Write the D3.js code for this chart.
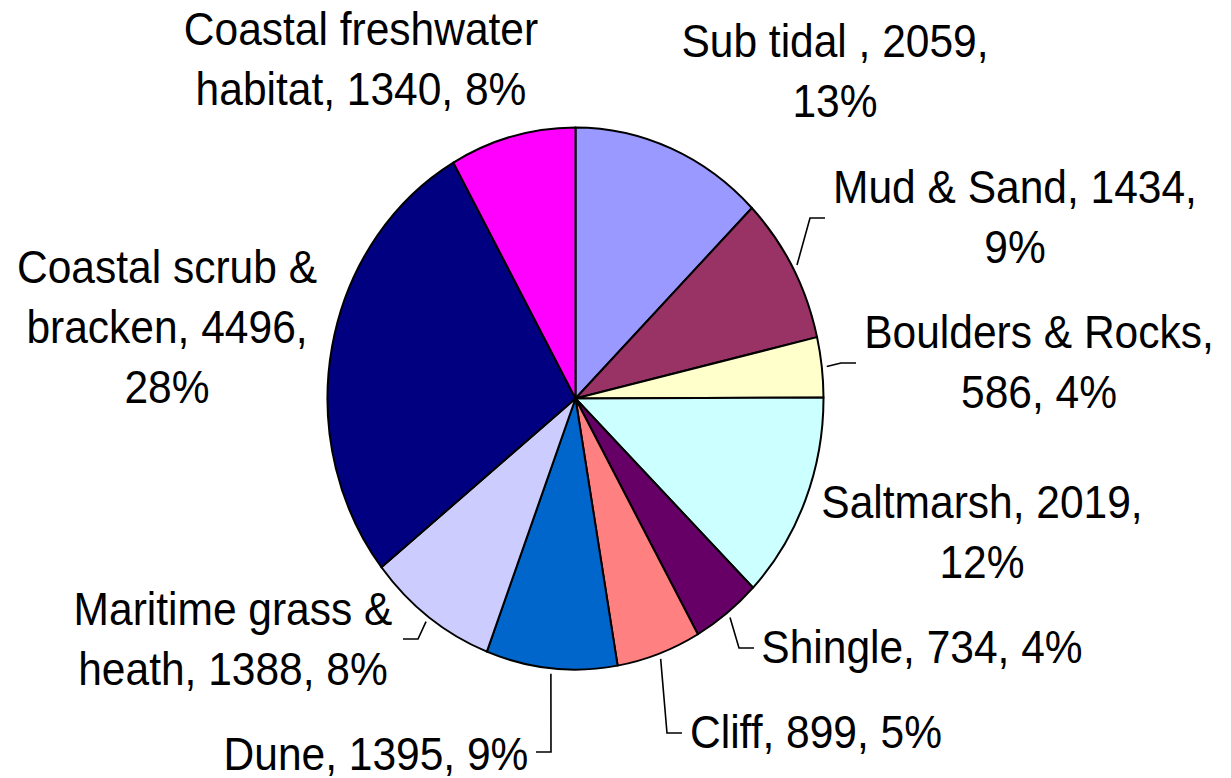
<!DOCTYPE html>
<html>
<head>
<meta charset="utf-8">
<script src="https://cdn.jsdelivr.net/npm/d3@7"></script>
<style>
  html, body { margin: 0; padding: 0; background: #fff; }
  svg { display: block; }
  .lbl { font-family: "Liberation Sans", Arial, sans-serif; font-size: 42.5px; fill: #000; }
</style>
</head>
<body>
<svg id="chart" width="1231" height="778"></svg>
<script>
// data
const categories = ["Sub tidal ", "Mud & Sand", "Boulders & Rocks", "Saltmarsh", "Shingle",
  "Cliff", "Dune", "Maritime grass & heath", "Coastal scrub & bracken", "Coastal freshwater habitat"];
const values = [2059, 1434, 586, 2019, 734, 899, 1395, 1388, 4496, 1340];
const percents = [13, 9, 4, 12, 4, 5, 9, 8, 28, 8];
const colors = ["#9999ff", "#993366", "#ffffcc", "#ccffff", "#660066",
  "#ff8080", "#0066cc", "#ccccff", "#000080", "#ff00ff"];

// label placement (screen px): centre x, first baseline, words per line, leader end
const labelLayout = [
  { x: 835, y: 57, breaks: [4], end: null },
  { x: 1015, y: 203, breaks: [4], end: [825, 218] },
  { x: 1039, y: 348, breaks: [3], end: [856, 363] },
  { x: 982, y: 518, breaks: [2], end: null },
  { x: 922, y: 663, breaks: [], end: [754, 648] },
  { x: 816, y: 748, breaks: [], end: [682, 733] },
  { x: 376, y: 770, breaks: [], end: [536, 752] },
  { x: 233, y: 625, breaks: [3], end: [403, 639] },
  { x: 167, y: 283, breaks: [3, 5], end: null },
  { x: 361, y: 45, breaks: [2], end: null }
];

const cx = 575.5, cy = 398.5, r = 248, ky = 1.093, lineH = 55;

const svg = d3.select("#chart");

const pie = d3.pie().sort(null).value(d => d.value);
const arcs = pie(values.map((v, i) => ({ value: v, i })));
const arc = d3.arc().innerRadius(0).outerRadius(r);

const g = svg.append("g").attr("transform", `translate(${cx},${cy}) scale(1,${ky})`);
g.selectAll("path")
  .data(arcs)
  .join("path")
  .attr("d", arc)
  .attr("fill", d => colors[d.data.i])
  .attr("stroke", "#000")
  .attr("stroke-width", 2)
  .attr("stroke-linejoin", "round")
  .attr("vector-effect", "non-scaling-stroke");

// leader lines
function edgePoint(d, rr) {
  const a = (d.startAngle + d.endAngle) / 2;
  return [cx + Math.sin(a) * rr, cy - Math.cos(a) * rr * ky];
}

arcs.forEach(d => {
  const L = labelLayout[d.data.i];
  if (!L.end) return;
  const p0 = edgePoint(d, r * 1.02);
  const side = L.end[0] > p0[0] ? 1 : -1;
  const elbow = [L.end[0] - side * 15, L.end[1]];
  svg.append("polyline")
    .attr("points", [p0, elbow, L.end].map(p => p.join(",")).join(" "))
    .attr("fill", "none")
    .attr("stroke", "#000")
    .attr("stroke-width", 1.6);
});

// labels
categories.forEach((c, i) => {
  const L = labelLayout[i];
  const words = `${c}, ${values[i]}, ${percents[i]}%`.split(" ");
  const cuts = [0, ...L.breaks, words.length];
  const lines = [];
  for (let k = 0; k < cuts.length - 1; k++) lines.push(words.slice(cuts[k], cuts[k + 1]).join(" "));
  const t = svg.append("g")
    .attr("transform", `translate(${L.x},${L.y}) scale(1,${ky})`)
    .append("text")
    .attr("class", "lbl")
    .attr("text-anchor", "middle");
  lines.forEach((s, k) => {
    t.append("tspan").attr("x", 0).attr("y", k * lineH).text(s);
  });
});
</script>
</body>
</html>
